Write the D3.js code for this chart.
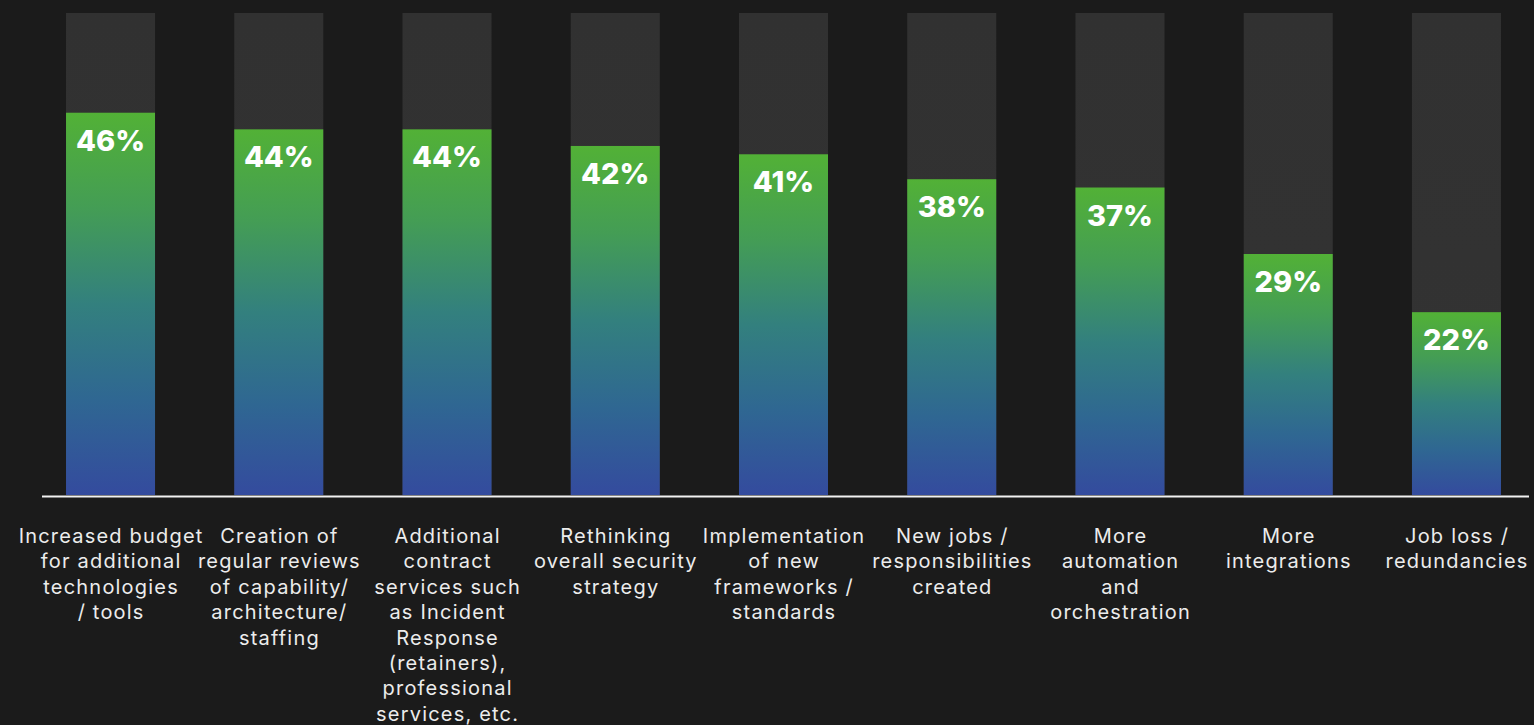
<!DOCTYPE html>
<html>
<head>
<meta charset="utf-8">
<script src="https://cdn.jsdelivr.net/npm/d3@7/dist/d3.min.js"></script>
<style>
  html, body { margin: 0; padding: 0; background: #1b1b1b; }
  svg { display: block; }
</style>
</head>
<body>
<svg id="chart" width="1534" height="725"></svg>
<script>
// Survey responses: share of respondents per expected outcome
const categories = [
  "Increased budget for additional technologies / tools",
  "Creation of regular reviews of capability/ architecture/ staffing",
  "Additional contract services such as Incident Response (retainers), professional services, etc.",
  "Rethinking overall security strategy",
  "Implementation of new frameworks / standards",
  "New jobs / responsibilities created",
  "More automation and orchestration",
  "More integrations",
  "Job loss / redundancies"
];
// Wrapped lines for the category labels under each bar
const labelLines = [
  ["Increased budget", "for additional", "technologies", "/ tools"],
  ["Creation of", "regular reviews", "of capability/", "architecture/", "staffing"],
  ["Additional", "contract", "services such", "as Incident", "Response", "(retainers),", "professional", "services, etc."],
  ["Rethinking", "overall security", "strategy"],
  ["Implementation", "of new", "frameworks /", "standards"],
  ["New jobs /", "responsibilities", "created"],
  ["More", "automation", "and", "orchestration"],
  ["More", "integrations"],
  ["Job loss /", "redundancies"]
];
const values = [46, 44, 44, 42, 41, 38, 37, 29, 22];
const trackMax = 58;   // height of the grey track behind each bar, in percent

const svg = d3.select("#chart");
const W = 1534, H = 725;
const baseY = 495, topY = 13;

const x = d3.scaleBand()
  .domain(d3.range(categories.length))
  .range([26.4, 1540.6])
  .paddingInner(0.471)
  .paddingOuter(0.2355);

const y = d3.scaleLinear().domain([0, trackMax]).range([baseY, topY]);

const defs = svg.append("defs");
const grad = defs.append("linearGradient")
  .attr("id", "barGrad")
  .attr("x1", 0).attr("y1", 0).attr("x2", 0).attr("y2", 1);
grad.append("stop").attr("offset", "0%").attr("stop-color", "#52b136");
grad.append("stop").attr("offset", "25%").attr("stop-color", "#449d55");
grad.append("stop").attr("offset", "50%").attr("stop-color", "#33807e");
grad.append("stop").attr("offset", "75%").attr("stop-color", "#2f6792");
grad.append("stop").attr("offset", "100%").attr("stop-color", "#344b9e");

const trackGrad = defs.append("linearGradient")
  .attr("id", "trackGrad")
  .attr("x1", 0).attr("y1", 0).attr("x2", 0).attr("y2", 1);
trackGrad.append("stop").attr("offset", "0%").attr("stop-color", "#313131");
trackGrad.append("stop").attr("offset", "100%").attr("stop-color", "#333333");

svg.append("rect").attr("width", W).attr("height", H).attr("fill", "#1b1b1b");

const g = svg.append("g");

// grey tracks
g.selectAll("rect.track")
  .data(values)
  .join("rect")
  .attr("class", "track")
  .attr("x", (d, i) => x(i))
  .attr("width", x.bandwidth())
  .attr("y", y(trackMax))
  .attr("height", y(0) - y(trackMax))
  .attr("fill", "url(#trackGrad)");

// value bars
g.selectAll("rect.bar")
  .data(values)
  .join("rect")
  .attr("class", "bar")
  .attr("x", (d, i) => x(i))
  .attr("width", x.bandwidth())
  .attr("y", d => y(d))
  .attr("height", d => y(0) - y(d))
  .attr("fill", "url(#barGrad)");

// value labels
g.selectAll("text.val")
  .data(values)
  .join("text")
  .attr("class", "val")
  .attr("x", (d, i) => x(i) + x.bandwidth() / 2)
  .attr("y", d => y(d) + 38)
  .attr("text-anchor", "middle")
  .attr("fill", "#ffffff")
  .attr("font-family", "Inter, 'Open Sans', sans-serif")
  .attr("font-weight", 800)
  .attr("font-size", 29)
  .text(d => d + "%");

// baseline
svg.append("line")
  .attr("x1", 42).attr("x2", 1529)
  .attr("y1", 496.5).attr("y2", 496.5)
  .attr("stroke", "#f2f2f2")
  .attr("stroke-width", 2);

// category labels
const lbl = svg.append("g")
  .attr("font-family", "Inter, 'Open Sans', sans-serif")
  .attr("font-size", 20)
  .attr("font-weight", 400)
  .attr("letter-spacing", "1.2px")
  .attr("fill", "#ececec")
  .attr("text-anchor", "middle");

lbl.selectAll("text")
  .data(labelLines)
  .join("text")
  .attr("transform", (d, i) => `translate(${x(i) + x.bandwidth() / 2 + 0.6},543)`)
  .selectAll("tspan")
  .data(d => d)
  .join("tspan")
  .attr("x", 0)
  .attr("y", (d, j) => j * 25.4)
  .text(d => d);
</script>
</body>
</html>
